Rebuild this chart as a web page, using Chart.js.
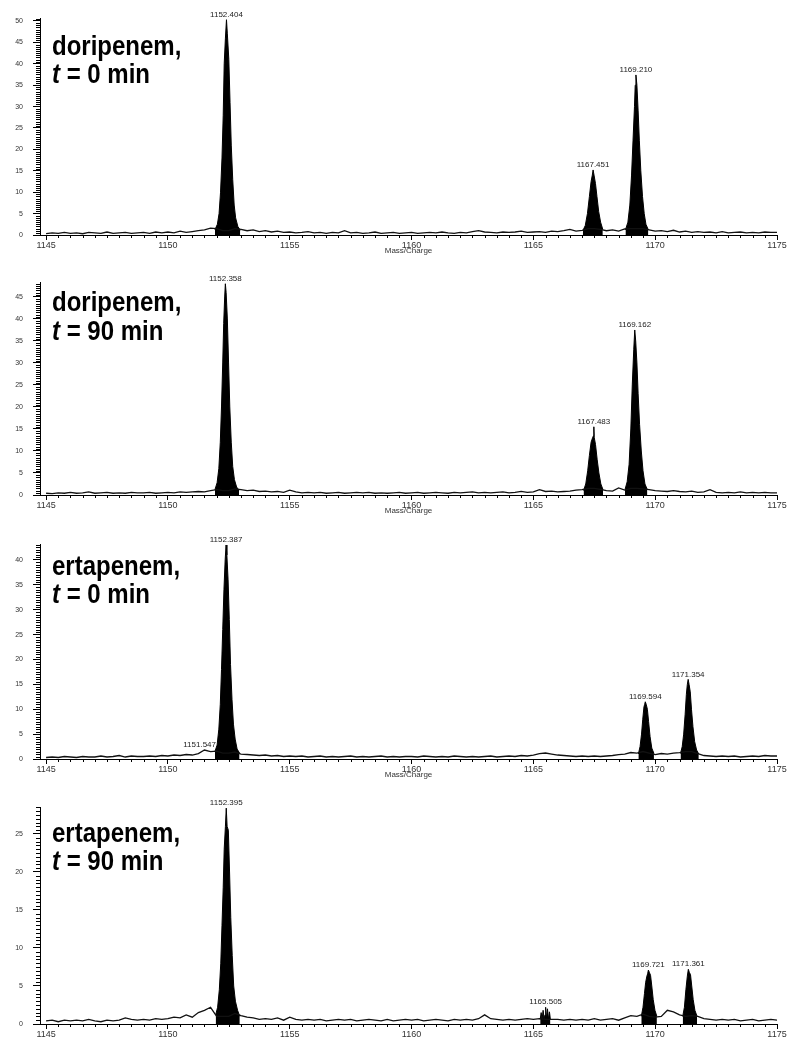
<!DOCTYPE html>
<html>
<head>
<meta charset="utf-8" />
<title>Doripenem / ertapenem spectra</title>
<script src="https://cdn.jsdelivr.net/npm/chart.js@4.4.1/dist/chart.umd.min.js"></script>
<style>
  body { margin: 0; background: #fff; width: 800px; height: 1050px; position: relative; overflow: hidden; }
  canvas { position: absolute; left: 0; }
</style>
</head>
<body>
<canvas id="c1" width="800" height="258" style="top:0px"></canvas>
<canvas id="c2" width="800" height="258" style="top:260px"></canvas>
<canvas id="c3" width="800" height="262" style="top:520px"></canvas>
<canvas id="c4" width="800" height="265" style="top:785px"></canvas>
<script>
// m/z grid for the baseline noise (every 0.25)
var noiseMz = [
  1145,1145.25,1145.5,1145.75, 1146,1146.25,1146.5,1146.75, 1147,1147.25,1147.5,1147.75,
  1148,1148.25,1148.5,1148.75, 1149,1149.25,1149.5,1149.75, 1150,1150.25,1150.5,1150.75,
  1151,1151.25,1151.5,1151.75, 1152,1152.25,1152.5,1152.75, 1153,1153.25,1153.5,1153.75,
  1154,1154.25,1154.5,1154.75, 1155,1155.25,1155.5,1155.75, 1156,1156.25,1156.5,1156.75,
  1157,1157.25,1157.5,1157.75, 1158,1158.25,1158.5,1158.75, 1159,1159.25,1159.5,1159.75,
  1160,1160.25,1160.5,1160.75, 1161,1161.25,1161.5,1161.75, 1162,1162.25,1162.5,1162.75,
  1163,1163.25,1163.5,1163.75, 1164,1164.25,1164.5,1164.75, 1165,1165.25,1165.5,1165.75,
  1166,1166.25,1166.5,1166.75, 1167,1167.25,1167.5,1167.75, 1168,1168.25,1168.5,1168.75,
  1169,1169.25,1169.5,1169.75, 1170,1170.25,1170.5,1170.75, 1171,1171.25,1171.5,1171.75,
  1172,1172.25,1172.5,1172.75, 1173,1173.25,1173.5,1173.75, 1174,1174.25,1174.5,1174.75,
  1175
];
var xTickValues = [1145, 1150, 1155, 1160, 1165, 1170, 1175];

// ---- doripenem, t = 0 min ----
var doriT0Noise = [
  0.3,0.5,0.4,0.6, 0.4,0.5,0.3,0.6, 0.5,0.4,0.7,0.4,
  0.5,0.6,0.4,0.5, 0.6,0.4,0.7,0.5, 0.7,0.5,0.9,0.6,
  0.8,1.0,1.2,1.6, 1.5,1.0,1.0,1.5, 1.3,1.0,1.2,0.8,
  1.0,0.7,0.9,0.6, 0.7,0.5,0.6,0.8, 0.5,0.6,0.4,0.6,
  0.5,1.0,0.5,0.6, 0.4,0.5,0.7,0.4, 0.5,0.6,0.4,0.5,
  0.6,0.4,0.5,0.6, 0.5,0.7,0.5,0.4, 0.6,0.5,0.8,1.0,
  0.7,0.6,0.5,0.7, 0.6,0.7,0.9,0.6, 0.7,0.8,0.6,0.9,
  0.8,1.0,1.3,0.9, 1.1,1.5,1.5,1.3, 1.0,1.2,0.9,1.4,
  1.5,1.5,1.5,1.2, 0.9,1.0,0.8,1.1, 0.7,0.9,0.6,0.8,
  0.6,0.7,0.5,0.8, 0.5,0.6,0.7,0.5, 0.6,0.5,0.7,0.6,
  0.6
];
var doriT0PeakAMz  = [1151.93,1152.03,1152.10,1152.16,1152.22,1152.27,1152.31,1152.36,1152.404,1152.44,1152.50,1152.55,1152.60,1152.66,1152.72,1152.78,1152.87,1152.97];
var doriT0PeakAInt = [1.2,2.5,5,10,18,28,40,46,50.3,47,41,31,21,13,7,4,2,1.1];
var doriT0PeakBMz  = [1167.03,1167.13,1167.22,1167.30,1167.37,1167.42,1167.451,1167.49,1167.55,1167.61,1167.68,1167.76,1167.85];
var doriT0PeakBInt = [1.0,2.2,5,9,12.5,14,15.2,14,12,9,5.5,3,1.3];
var doriT0PeakCMz  = [1168.78,1168.88,1168.96,1169.03,1169.09,1169.15,1169.18,1169.21,1169.25,1169.30,1169.35,1169.41,1169.48,1169.55,1169.62,1169.72];
var doriT0PeakCInt = [1.2,3,7,14,22,30,35,37.4,35,29,22,15,9,5,2.5,1.2];
var doriT0LabelMz  = [1152.404, 1167.451, 1169.210];
var doriT0LabelInt = [50.3, 15.2, 37.4];
var doriT0YTicks   = [0, 5, 10, 15, 20, 25, 30, 35, 40, 45, 50];

// ---- doripenem, t = 90 min ----
var doriT90Noise = [
  0.4,0.3,0.5,0.4, 0.6,0.4,0.5,0.7, 0.4,0.5,0.6,0.4,
  0.5,0.4,0.6,0.5, 0.5,0.6,0.4,0.5, 0.6,0.5,0.7,0.6,
  0.7,0.8,0.7,1.0, 1.2,1.0,1.0,1.4, 1.2,1.0,1.1,0.8,
  0.9,0.7,0.8,0.6, 1.1,0.7,0.5,0.6, 0.5,0.6,0.4,0.5,
  0.6,0.4,0.5,0.6, 0.5,0.6,0.4,0.5, 0.4,0.5,0.6,0.4,
  0.5,0.6,0.4,0.5, 0.6,0.5,0.4,0.6, 0.5,0.6,0.7,0.5,
  0.6,0.5,0.6,0.7, 0.5,0.6,0.8,0.6, 0.7,1.2,0.8,0.9,
  0.7,0.8,0.9,1.1, 1.2,1.5,1.5,1.3, 1.0,0.9,1.6,1.1,
  1.5,1.5,1.4,1.2, 1.0,0.9,0.8,1.0, 0.8,0.7,0.9,0.6,
  0.7,1.2,0.6,0.5, 0.6,0.5,0.7,0.5, 0.6,0.5,0.6,0.5,
  0.5
];
var doriT90PeakAMz  = [1151.93,1152.02,1152.09,1152.15,1152.20,1152.25,1152.29,1152.33,1152.358,1152.39,1152.44,1152.49,1152.54,1152.60,1152.66,1152.73,1152.82,1152.92];
var doriT90PeakAInt = [1.2,2.8,6,12,20,30,39,45,48,46,40,30,20,12,6.5,3.5,1.8,1.1];
var doriT90PeakBMz  = [1167.06,1167.15,1167.23,1167.30,1167.37,1167.43,1167.47,1167.483,1167.50,1167.55,1167.62,1167.69,1167.77,1167.86];
var doriT90PeakBInt = [1.0,2.5,5.5,9,12,13,13.5,15.5,13,11.5,8,5,2.5,1.2];
var doriT90PeakCMz  = [1168.76,1168.85,1168.93,1169.00,1169.06,1169.12,1169.162,1169.20,1169.25,1169.30,1169.36,1169.43,1169.50,1169.58,1169.68];
var doriT90PeakCInt = [1.2,3,7,15,25,33,37.5,35,30,23,16,10,5.5,2.5,1.2];
var doriT90LabelMz  = [1152.358, 1167.483, 1169.162];
var doriT90LabelInt = [48, 15.5, 37.5];
var doriT90YTicks   = [0, 5, 10, 15, 20, 25, 30, 35, 40, 45];

// ---- ertapenem, t = 0 min ----
var ertaT0Noise = [
  0.3,0.4,0.3,0.5, 0.4,0.3,0.5,0.4, 0.4,0.6,0.4,0.5,
  0.7,0.4,0.6,0.5, 0.5,0.6,0.5,0.7, 0.6,0.8,0.7,0.9,
  0.8,1.1,1.8,1.5, 1.6,1.2,1.2,1.4, 1.0,0.9,0.8,0.7,
  0.8,0.6,0.7,0.5, 0.6,0.5,0.6,0.4, 0.5,0.6,0.4,0.5,
  0.4,0.5,0.6,0.4, 0.5,0.4,0.5,0.6, 0.4,0.5,0.4,0.5,
  0.5,0.4,0.6,0.5, 0.4,0.5,0.4,0.6, 0.5,0.4,0.5,0.4,
  0.5,0.6,0.4,0.5, 0.6,0.5,0.7,0.6, 0.8,1.1,1.2,1.0,
  0.8,0.7,0.6,0.5, 0.6,0.5,0.6,0.5, 0.6,0.7,0.9,1.0,
  1.3,1.2,1.5,1.2, 0.9,1.1,1.0,1.2, 1.3,1.5,1.5,1.1,
  0.7,0.6,0.5,0.6, 0.5,0.6,0.4,0.5, 0.6,0.5,0.7,0.6,
  0.6
];
var ertaT0PeakAMz  = [1151.93,1152.02,1152.09,1152.15,1152.20,1152.25,1152.30,1152.35,1152.387,1152.42,1152.47,1152.52,1152.57,1152.63,1152.69,1152.76,1152.84,1152.94];
var ertaT0PeakAInt = [1.5,2.8,6,11,18,26,34,40,43,41,36,28,19,12,7,4,2,1.2];
var ertaT0PeakBMz  = [1169.31,1169.38,1169.44,1169.49,1169.54,1169.57,1169.594,1169.63,1169.68,1169.73,1169.79,1169.86,1169.95];
var ertaT0PeakBInt = [1.0,2.5,5,8,10.5,11,11.5,11,10,7.5,4.5,2.2,1.1];
var ertaT0PeakCMz  = [1171.04,1171.11,1171.17,1171.23,1171.28,1171.32,1171.354,1171.39,1171.44,1171.49,1171.55,1171.62,1171.70,1171.79];
var ertaT0PeakCInt = [1.1,2.5,5,9,13,15,16,15,13.5,10,6.5,3.5,1.8,1.0];
var ertaT0LabelMz  = [1151.547, 1152.387, 1169.594, 1171.354];
var ertaT0LabelInt = [1.8, 43, 11.5, 16];
var ertaT0YTicks   = [0, 5, 10, 15, 20, 25, 30, 35, 40];

// ---- ertapenem, t = 90 min ----
var ertaT90Noise = [
  0.4,0.5,0.3,0.5, 0.4,0.5,0.4,0.6, 0.4,0.3,0.5,0.4,
  0.5,0.8,0.6,0.5, 0.6,0.5,0.7,0.6, 0.7,0.9,0.8,1.2,
  0.9,1.5,1.8,2.2, 1.0,1.0,1.0,1.4, 1.1,0.9,0.8,0.6,
  0.7,0.6,0.8,0.5, 0.9,0.6,0.5,0.6, 0.5,0.6,0.4,0.5,
  0.6,0.5,0.6,0.4, 0.5,0.6,0.5,0.4, 0.6,0.4,0.5,0.6,
  0.5,0.6,0.4,0.5, 0.6,0.5,0.4,0.6, 0.5,0.6,0.5,0.7,
  1.2,0.7,0.6,0.5, 0.6,0.5,0.6,0.7, 0.6,0.7,0.6,0.6,
  0.6,0.5,0.6,0.5, 0.6,0.5,0.7,0.5, 0.6,0.7,0.5,0.8,
  1.1,1.0,1.3,1.0, 0.9,1.0,1.8,1.6, 1.2,1.0,1.1,1.0,
  0.7,0.6,0.5,0.6, 0.5,0.6,0.4,0.5, 0.6,0.4,0.5,0.6,
  0.5
];
var ertaT90PeakAMz  = [1151.96,1152.04,1152.11,1152.17,1152.22,1152.27,1152.31,1152.36,1152.395,1152.43,1152.48,1152.53,1152.58,1152.64,1152.70,1152.77,1152.86,1152.95];
var ertaT90PeakAInt = [1.2,2.2,4.5,8,13,18,23,26,28.4,26,25.5,20,14,9,5,3,1.8,1.0];
var ertaT90PeakBMz  = [1165.28,1165.32,1165.36,1165.40,1165.44,1165.48,1165.505,1165.54,1165.58,1165.62,1165.66,1165.70];
var ertaT90PeakBInt = [0.6,1.5,0.6,1.8,0.7,1.2,2.2,0.7,2.0,0.6,1.6,0.6];
var ertaT90PeakCMz  = [1169.43,1169.50,1169.56,1169.61,1169.66,1169.69,1169.721,1169.76,1169.81,1169.86,1169.92,1169.99,1170.07];
var ertaT90PeakCInt = [1.0,2.2,4,5.5,6.3,6.6,7.1,6.8,6.4,5,3.2,1.8,1.0];
var ertaT90PeakDMz  = [1171.13,1171.20,1171.26,1171.32,1171.361,1171.40,1171.45,1171.50,1171.56,1171.63,1171.72];
var ertaT90PeakDInt = [1.0,2.2,4.5,6.3,7.2,6.8,6.5,5,3.2,1.8,1.0];
var ertaT90LabelMz  = [1152.395, 1165.505, 1169.721, 1171.361];
var ertaT90LabelInt = [28.4, 2.2, 7.1, 7.2];
var ertaT90YTicks   = [0, 5, 10, 15, 20, 25];

var FONT = '"Liberation Sans", Arial, sans-serif';

function pairs(xs, ys) {
  return xs.map(function(x, i) { return {x: x, y: ys[i]}; });
}

// small m/z labels above the peaks
var peakLabels = {
  id: 'peakLabels',
  afterDatasetsDraw: function(chart, args, opts) {
    var ctx = chart.ctx, xs = chart.scales.x, ys = chart.scales.y;
    ctx.save();
    ctx.font = '8px ' + FONT;
    ctx.fillStyle = '#222';
    ctx.textAlign = 'center';
    ctx.textBaseline = 'bottom';
    opts.mz.forEach(function(m, i) {
      var dx = opts.dx ? opts.dx[i] : 0;
      ctx.fillText(m.toFixed(3), xs.getPixelForValue(m) + dx, ys.getPixelForValue(opts.int[i]) - 1);
    });
    ctx.restore();
  }
};

// minor ticks every 0.5 on both axes
var minorTicks = {
  id: 'minorTicks',
  afterDraw: function(chart) {
    var ctx = chart.ctx, xs = chart.scales.x, ys = chart.scales.y, a = chart.chartArea;
    ctx.save();
    ctx.strokeStyle = '#000';
    ctx.lineWidth = 1;
    ctx.beginPath();
    for (var v = 1145; v <= 1175; v += 0.5) {
      if (v % 5 === 0) continue;
      var px = Math.round(xs.getPixelForValue(v)) + 0.5;
      ctx.moveTo(px, a.bottom); ctx.lineTo(px, a.bottom + 3);
    }
    for (var w = 0; w <= ys.max; w += 0.5) {
      if (w % 5 === 0) continue;
      var py = Math.round(ys.getPixelForValue(w)) + 0.5;
      ctx.moveTo(a.left - 4, py); ctx.lineTo(a.left, py);
    }
    ctx.stroke();
    ctx.restore();
  }
};

// big bold panel caption
var panelCaption = {
  id: 'panelCaption',
  afterDraw: function(chart, args, opts) {
    var ctx = chart.ctx;
    ctx.save();
    ctx.fillStyle = '#000';
    ctx.textBaseline = 'alphabetic';
    ctx.save();
    ctx.translate(opts.x, opts.y1);
    ctx.scale(1, 1.15);
    ctx.font = 'bold 24px ' + FONT;
    ctx.fillText(opts.drug, 0, 0);
    ctx.restore();
    ctx.save();
    ctx.translate(opts.x, opts.y2);
    ctx.scale(1, 1.15);
    ctx.font = 'italic bold 24px ' + FONT;
    ctx.fillText('t', 0, 0);
    var tw = ctx.measureText('t').width;
    ctx.font = 'bold 24px ' + FONT;
    ctx.fillText(' = ' + opts.time, tw, 0);
    ctx.restore();
    ctx.restore();
  }
};

function makePanel(id, noise, peaks, labels, yTicks, yMax, caption, pad, showTitle) {
  var datasets = [{
    data: pairs(noiseMz, noise),
    borderColor: '#111', borderWidth: 1.3, pointRadius: 0, fill: false
  }];
  peaks.forEach(function(p) {
    datasets.push({
      data: pairs(p[0], p[1]),
      borderColor: '#000', borderWidth: 1, pointRadius: 0,
      backgroundColor: '#000', fill: 'origin'
    });
  });
  return new Chart(document.getElementById(id), {
    type: 'line',
    data: { datasets: datasets },
    options: {
      responsive: false,
      animation: false,
      devicePixelRatio: 1,
      layout: { padding: { top: pad.top, bottom: pad.bottom, left: 0, right: 23 } },
      elements: { line: { tension: 0 } },
      scales: {
        x: {
          type: 'linear', min: 1144.75, max: 1175,
          afterBuildTicks: function(s) { s.ticks = xTickValues.map(function(v) { return {value: v}; }); },
          afterFit: function(s) { s.height = 21; },
          grid: { drawOnChartArea: false, drawTicks: true, tickLength: 5, color: '#000' },
          border: { display: true, color: '#000', width: 1 },
          ticks: {
            padding: 0, maxRotation: 0, autoSkip: false,
            color: '#333', font: { family: FONT, size: 9 },
            callback: function(v) { return String(v); }
          },
          title: {
            display: showTitle, text: 'Mass/Charge', color: '#333',
            font: { family: FONT, size: 8 },
            padding: { top: 0, bottom: 0 }
          }
        },
        y: {
          min: 0, max: yMax,
          afterBuildTicks: function(s) { s.ticks = yTicks.map(function(v) { return {value: v}; }); },
          afterFit: function(s) { s.width = 40; },
          grid: { drawOnChartArea: false, drawTicks: true, tickLength: 7, color: '#000' },
          border: { display: true, color: '#000', width: 1 },
          ticks: {
            padding: 10, color: '#333',
            font: { family: FONT, size: 7 }
          }
        }
      },
      plugins: {
        legend: { display: false },
        tooltip: { enabled: false },
        peakLabels: labels,
        panelCaption: caption
      }
    },
    plugins: [peakLabels, minorTicks, panelCaption]
  });
}

makePanel('c1', doriT0Noise,
  [[doriT0PeakAMz, doriT0PeakAInt], [doriT0PeakBMz, doriT0PeakBInt], [doriT0PeakCMz, doriT0PeakCInt]],
  { mz: doriT0LabelMz, int: doriT0LabelInt },
  doriT0YTicks, 50.7,
  { drug: 'doripenem,', time: '0 min', x: 52, y1: 55, y2: 83 },
  { top: 18, bottom: 2 }, true);

makePanel('c2', doriT90Noise,
  [[doriT90PeakAMz, doriT90PeakAInt], [doriT90PeakBMz, doriT90PeakBInt], [doriT90PeakCMz, doriT90PeakCInt]],
  { mz: doriT90LabelMz, int: doriT90LabelInt },
  doriT90YTicks, 48.4,
  { drug: 'doripenem,', time: '90 min', x: 52, y1: 51, y2: 80 },
  { top: 22, bottom: 2 }, true);

makePanel('c3', ertaT0Noise,
  [[ertaT0PeakAMz, ertaT0PeakAInt], [ertaT0PeakBMz, ertaT0PeakBInt], [ertaT0PeakCMz, ertaT0PeakCInt]],
  { mz: ertaT0LabelMz, int: ertaT0LabelInt, dx: [-6, 0, 0, 0] },
  ertaT0YTicks, 43.2,
  { drug: 'ertapenem,', time: '0 min', x: 52, y1: 55, y2: 83 },
  { top: 24, bottom: 2 }, true);

makePanel('c4', ertaT90Noise,
  [[ertaT90PeakAMz, ertaT90PeakAInt], [ertaT90PeakBMz, ertaT90PeakBInt], [ertaT90PeakCMz, ertaT90PeakCInt], [ertaT90PeakDMz, ertaT90PeakDInt]],
  { mz: ertaT90LabelMz, int: ertaT90LabelInt },
  ertaT90YTicks, 28.55,
  { drug: 'ertapenem,', time: '90 min', x: 52, y1: 57, y2: 85 },
  { top: 22, bottom: 5 }, false);
</script>
</body>
</html>
